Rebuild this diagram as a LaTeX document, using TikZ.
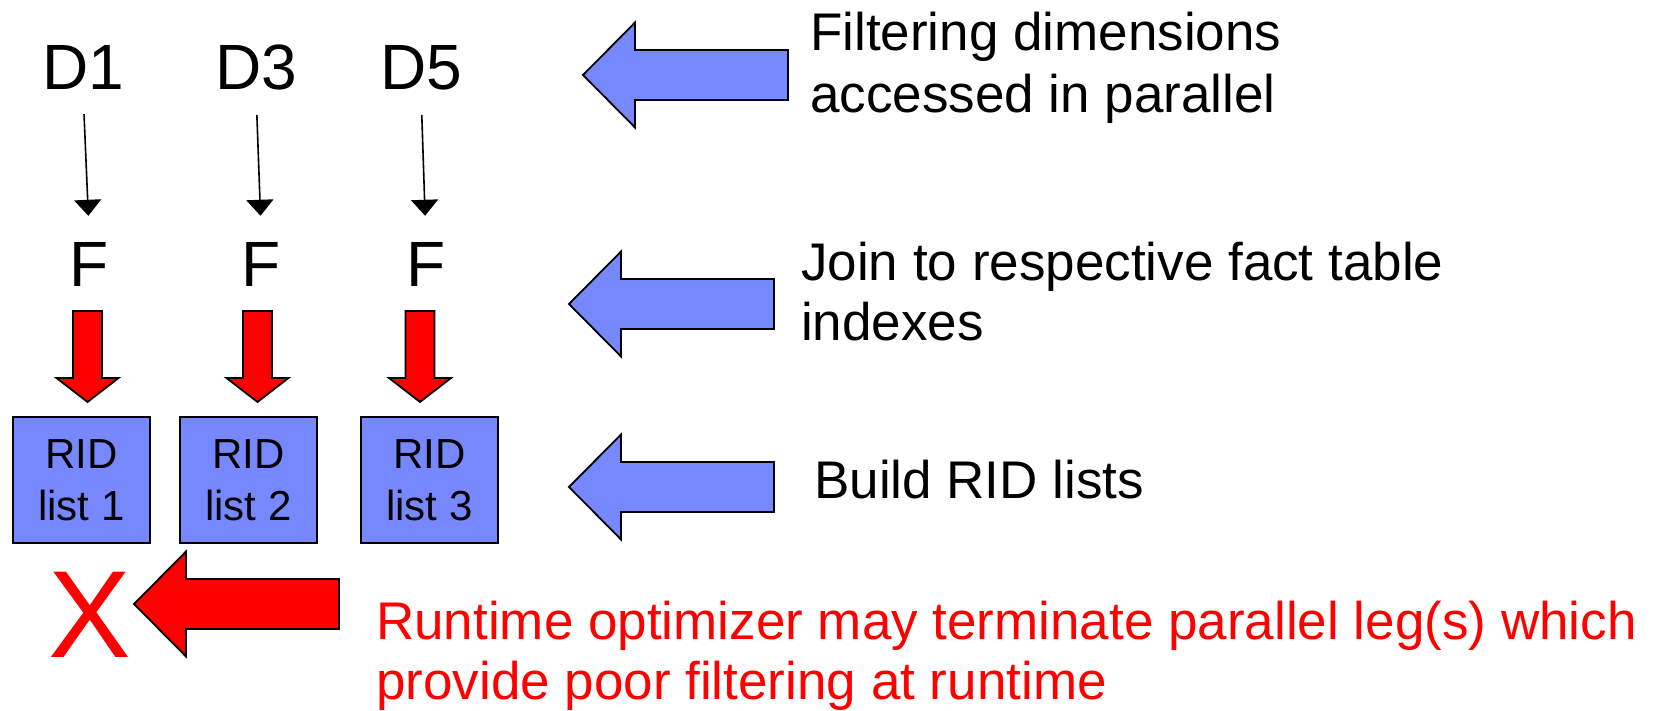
\documentclass[tikz,border=0pt]{standalone}
\usepackage{fontspec}
\setmainfont{Liberation Sans}
\usetikzlibrary{arrows.meta}
\definecolor{boxblue}{RGB}{119,136,255}
\definecolor{pred}{RGB}{255,0,0}
\begin{document}
\begin{tikzpicture}[x=1pt,y=-1pt,
  lbl/.style={inner sep=0pt, anchor=base, font=\fontsize{64}{70}\selectfont},
  side/.style={inner sep=0pt, anchor=base west, align=left, font=\fontsize{53}{60}\selectfont},
  ridbox/.style={draw=black, line width=1.8pt, fill=boxblue, minimum width=137pt,
    minimum height=126pt, inner sep=0pt, align=center, font=\fontsize{42}{52}\selectfont},
  dimarrow/.style={line width=1.6pt, -{Triangle[width=27pt,length=16pt]},
    shorten <=24pt, shorten >=27pt},
  blockarrow/.style={draw=black, line width=1.8pt, line join=miter},
  larrow/.pic={\path[blockarrow, pic actions] (0,0) -- (52,-52.5) -- (52,-25) -- (205,-25)
    -- (205,25) -- (52,25) -- (52,52.5) -- cycle;},
  darrow/.pic={\path[blockarrow, pic actions] (0,0) -- (-31,-24) -- (-14.5,-24) -- (-14.5,-91)
    -- (14.5,-91) -- (14.5,-24) -- (31,-24) -- cycle;},
]
\useasboundingbox (0,0) rectangle (1655,711);

% dimension labels
\node[lbl] (D1) at (83,90) {D1};
\node[lbl] (D3) at (256,90) {D3};
\node[lbl] (D5) at (421,90) {D5};
% fact labels
\node[lbl] (F1) at (89.5,287) {F};
\node[lbl] (F2) at (261.5,287) {F};
\node[lbl] (F3) at (426,287) {F};

\draw[dimarrow] (D1.south) -- (F1.north);
\draw[dimarrow] (D3.south) -- (F2.north);
\draw[dimarrow] (D5.south) -- (F3.north);

% red down arrows
\pic[fill=pred] at (87.5,402) {darrow};
\pic[fill=pred] at (257.5,402) {darrow};
\pic[fill=pred] at (420,402) {darrow};

% RID boxes
\node[ridbox] (R1) at (81.5,480) {RID\\list 1};
\node[ridbox] (R2) at (248.5,480) {RID\\list 2};
\node[ridbox] (R3) at (429.5,480) {RID\\list 3};

% cross
\node[inner sep=0pt, anchor=base, text=pred, font=\fontsize{124}{130}\selectfont] (X) at (89.5,657) {X};

% left arrows
\pic[fill=boxblue] at (583,75) {larrow};
\pic[fill=boxblue] at (569,304) {larrow};
\pic[fill=boxblue] at (569,487) {larrow};
\pic[fill=pred] at (134,604) {larrow};

% side texts (base anchor = baseline of the last line)
\node[side, font=\fontsize{53}{62}\selectfont] (T1) at (810,113) {Filtering dimensions\\accessed in parallel};
\node[side] (T2) at (801,341) {Join to respective fact table\\indexes};
\node[side] (T3) at (814,498) {Build RID lists};
\node[side, text=pred] (T4) at (376,699) {Runtime optimizer may terminate parallel leg(s) which\\provide poor filtering at runtime};
\end{tikzpicture}
\end{document}
